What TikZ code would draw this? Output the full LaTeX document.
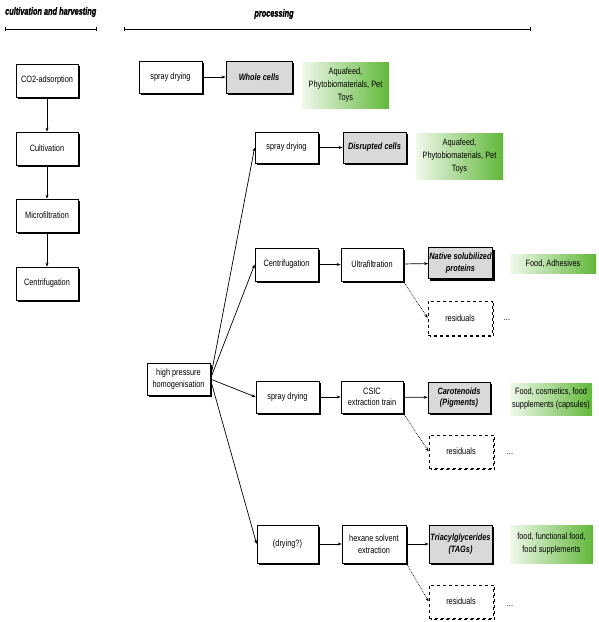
\documentclass[tikz,border=0pt]{standalone}
\usepackage{fontspec}
\setmainfont{Liberation Sans}[FakeStretch=0.8]
\newfontfamily\hdrfont{Liberation Sans Bold Italic}[FakeStretch=0.7, FakeBold=1.5]
\usetikzlibrary{arrows.meta,shadows}
\definecolor{gdark}{RGB}{98,184,58}
\definecolor{glight}{RGB}{240,248,236}
\definecolor{greyfill}{RGB}{217,217,217}
\begin{document}
\begin{tikzpicture}[x=1pt,y=-1pt,
  base/.style={font=\fontsize{9.2}{11.5}\selectfont, align=center, inner sep=1pt},
  box/.style={base, draw, line width=0.7pt, fill=white,
    drop shadow={shadow xshift=2pt, shadow yshift=-2pt, fill=black, opacity=1}},
  gbox/.style={box, fill=greyfill, font=\fontsize{9.2}{11.5}\selectfont\bfseries\itshape},
  rbox/.style={base, draw, dashed, line width=0.7pt, fill=white},
  gnode/.style={base, left color=glight, right color=gdark, font=\fontsize{9.2}{13}\selectfont},
  hdr/.style={font=\fontsize{10.5}{12}\hdrfont, inner sep=0pt},
  arr/.style={-{Stealth[length=4pt,width=3pt]}, line width=0.7pt},
  darr/.style={arr, densely dotted},
  rshadow/.style={dashed, line width=1.4pt},
  bracket/.style={{Bar[width=4pt]}-{Bar[width=4pt]}, line width=0.8pt}
]
\useasboundingbox (0,0) rectangle (599,622);

% headers
\node[hdr, anchor=west] (h1) at (5,12) {cultivation and harvesting};
\node[hdr] (h2) at (274,14) {processing};
\coordinate (b1a) at (5,29); \coordinate (b1b) at (97,29);
\coordinate (b2a) at (124,29); \coordinate (b2b) at (531,29);
\draw[bracket] (b1a) -- (b1b);
\draw[bracket] (b2a) -- (b2b);

% left column
\node[box, minimum width=62pt, minimum height=33pt] (co2) at (47,80.5) {CO2-adsorption};
\node[box, minimum width=62pt, minimum height=33pt] (cult) at (47,148.5) {Cultivation};
\node[box, minimum width=62pt, minimum height=33pt] (micro) at (47,215.5) {Microfiltration};
\node[box, minimum width=62pt, minimum height=33pt] (cen1) at (47,283.5) {Centrifugation};
\draw[arr] (co2) -- (cult);
\draw[arr] (cult) -- (micro);
\draw[arr] (micro) -- (cen1);

% top row
\node[box, minimum width=63pt, minimum height=32pt] (sd1) at (170.5,77) {spray drying};
\node[gbox, minimum width=66pt, minimum height=32pt] (whole) at (259,77) {Whole cells};
\node[gnode, minimum width=87pt, minimum height=46pt] (g1) at (345.5,85) {Aquafeed,\\Phytobiomaterials, Pet\\Toys};
\draw[arr] (sd1) -- (whole);

% disrupted
\node[box, minimum width=63pt, minimum height=31pt] (sd2) at (286.5,147.5) {spray drying};
\node[gbox, minimum width=63pt, minimum height=31pt] (disr) at (374.5,147.5) {Disrupted cells};
\node[gnode, minimum width=87pt, minimum height=46pt] (g2) at (459.5,156) {Aquafeed,\\Phytobiomaterials, Pet\\Toys};
\draw[arr] (sd2) -- (disr);

% proteins
\node[box, minimum width=63pt, minimum height=33pt] (cen2) at (286.5,264.5) {Centrifugation};
\node[box, minimum width=62pt, minimum height=33pt] (ultra) at (372,264.5) {Ultrafiltration};
\node[gbox, minimum width=63pt, minimum height=31pt] (nat) at (460.5,263) {Native solubilized\\proteins};
\node[gnode, minimum width=86pt, minimum height=19pt] (g3) at (553,263.5) {Food, Adhesives};
\node[rbox, minimum width=64pt, minimum height=34pt] (res1) at (460,318) {residuals};
\draw[rshadow] ([xshift=1.2pt,yshift=-2pt]res1.north east) -- ([xshift=1.2pt,yshift=-1.2pt]res1.south east) -- ([xshift=2pt,yshift=-1.2pt]res1.south west);
\node[base] (d1) at (507,320) {...};
\draw[arr] (cen2) -- (ultra);
\draw[arr] (ultra) -- (nat);
\draw[darr] (ultra.south east) -- (res1.west);

% homogenisation
\node[box, minimum width=63pt, minimum height=32pt] (hph) at (178.5,379) {high pressure\\homogenisation};

% pigments
\node[box, minimum width=63pt, minimum height=32pt] (sd3) at (287.5,397) {spray drying};
\node[box, minimum width=62pt, minimum height=32pt] (csic) at (372,397) {CSIC\\extraction train};
\node[gbox, minimum width=62pt, minimum height=31pt] (caro) at (459,397.5) {Carotenoids\\(Pigments)};
\node[gnode, minimum width=82pt, minimum height=32pt] (g4) at (551,399) {Food, cosmetics, food\\supplements (capsules)};
\node[rbox, minimum width=64pt, minimum height=33pt] (res2) at (461,451.5) {residuals};
\draw[rshadow] ([xshift=1.2pt,yshift=-2pt]res2.north east) -- ([xshift=1.2pt,yshift=-1.2pt]res2.south east) -- ([xshift=2pt,yshift=-1.2pt]res2.south west);
\node[base] (d2) at (510,454) {...};
\draw[arr] (sd3) -- (csic);
\draw[arr] (csic) -- (caro);
\draw[darr] (csic.south east) -- (res2.west);

% TAGs
\node[box, minimum width=61pt, minimum height=38pt] (dry) at (287.5,544) {(drying?)};
\node[box, minimum width=64pt, minimum height=38pt] (hex) at (374,544) {hexane solvent\\extraction};
\node[gbox, minimum width=63pt, minimum height=38pt] (tag) at (460.5,544) {Triacylglycerides\\(TAGs)};
\node[gnode, minimum width=83pt, minimum height=38pt] (g5) at (551.5,544) {food, functional food,\\food supplements};
\node[rbox, minimum width=64pt, minimum height=33pt] (res3) at (461,601.5) {residuals};
\draw[rshadow] ([xshift=1.2pt,yshift=-2pt]res3.north east) -- ([xshift=1.2pt,yshift=-1.2pt]res3.south east) -- ([xshift=2pt,yshift=-1.2pt]res3.south west);
\node[base] (d3) at (510,606) {...};
\draw[arr] (dry) -- (hex);
\draw[arr] (hex) -- (tag);
\draw[darr] (hex.south east) -- (res3.west);

% fan-out
\draw[arr] (hph.east) -- (sd2.west);
\draw[arr] (hph.east) -- (cen2.west);
\draw[arr] (hph.east) -- (sd3.west);
\draw[arr] (hph.east) -- (dry.west);
\end{tikzpicture}
\end{document}
